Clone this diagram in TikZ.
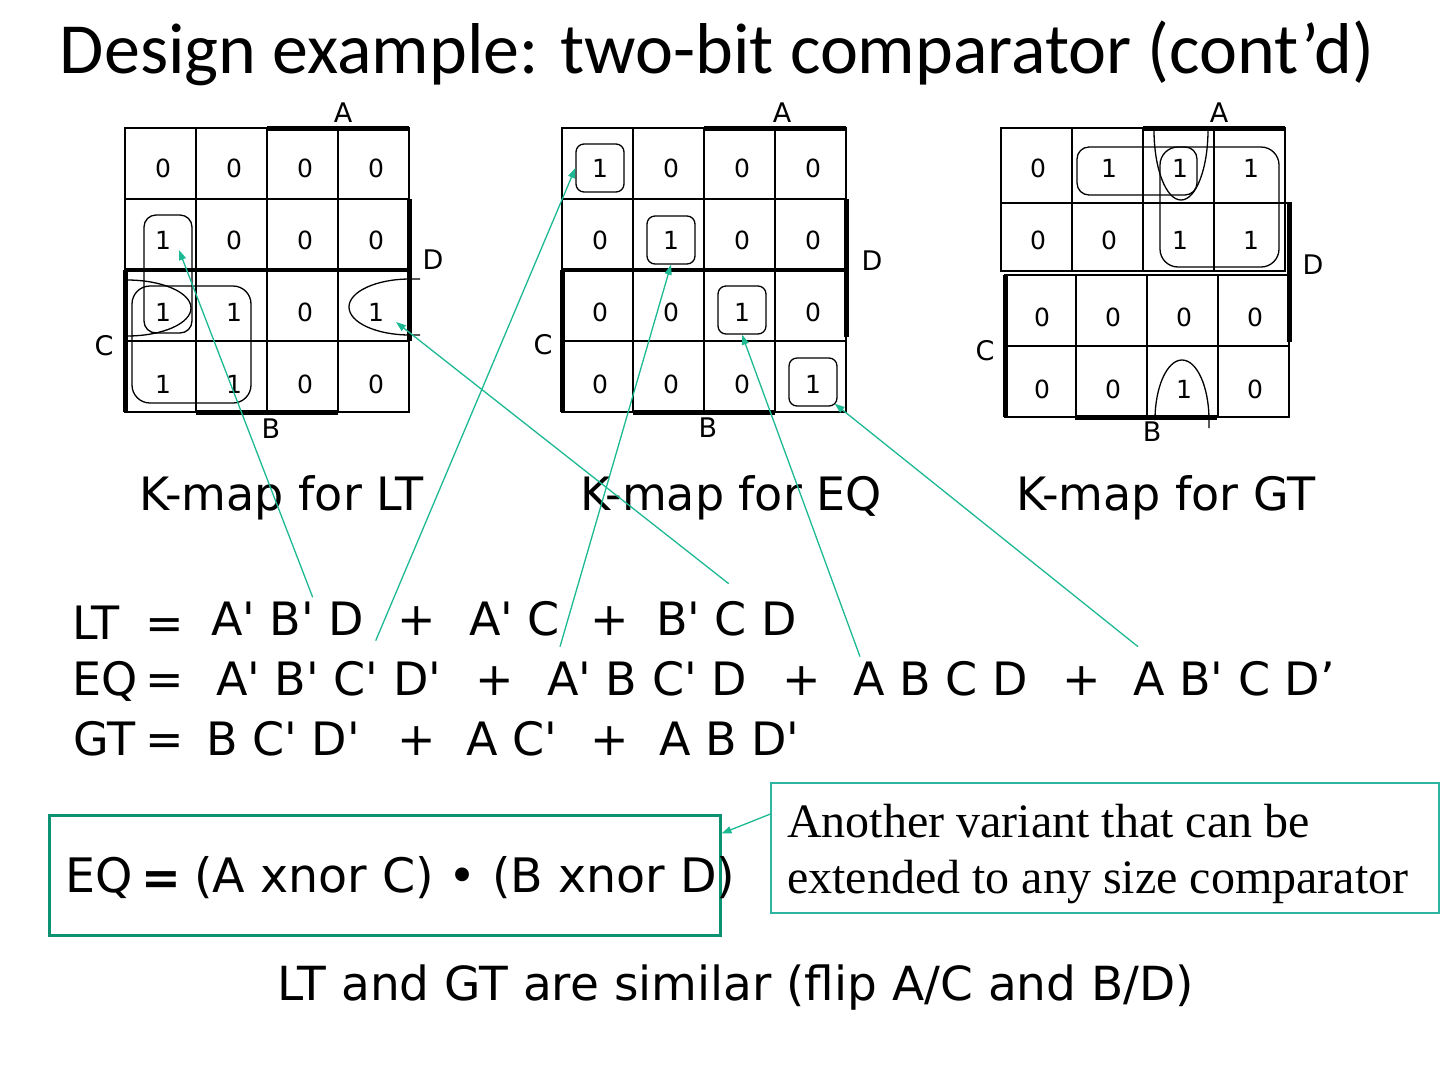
\documentclass[tikz,border=0pt]{standalone}
\usepackage{fontspec}
\setmainfont{DejaVu Sans}
\newfontfamily\titlefont{Carlito}
\newfontfamily\notefont{Liberation Serif}
\usetikzlibrary{arrows.meta, positioning, calc}
\definecolor{kteal}{HTML}{1DB992}
\definecolor{kgreen}{HTML}{0A9272}
\definecolor{knote}{HTML}{2EB5A2}
\newcommand{\q}{\textquotesingle}
\tikzset{
  grid/.style={line width=1.6pt},
  bar/.style={line width=5pt},
  ring/.style={line width=1.3pt},
  bit/.style={font=\fontsize{25}{25}\selectfont, inner sep=1pt},
  var/.style={font=\fontsize{27}{27}\selectfont, inner sep=0pt},
  term/.style={font=\fontsize{46}{46}\selectfont, anchor=base west, inner sep=0pt},
  caption/.style={font=\fontsize{46}{46}\selectfont, anchor=base, inner sep=0pt},
  eqring/.style={draw, rounded corners=8pt, minimum size=48pt, line width=1.3pt, inner sep=0pt},
  link/.style={-{Triangle[length=10pt,width=7pt]}, draw=kteal, line width=1.3pt},
  notebox/.style={draw=knote, line width=1.2pt, minimum width=668pt, minimum height=130pt, inner sep=0pt},
  notetext/.style={font=\notefont\fontsize{48}{56}\selectfont, align=left, anchor=north west, inner sep=0pt}
}
\begin{document}
\begin{tikzpicture}[x=1pt, y=-1pt]
  \useasboundingbox (0,0) rectangle (1440,1080);
  \node[font=\titlefont\fontsize{72}{72}\selectfont, anchor=base] (title) at (717,73) {Design example: two-bit comparator (cont’d)};

  % K-map for LT
  \draw[grid] (125,128) rectangle (409,412);
  \foreach \x in {196,267,338} \draw[grid] (\x,128) -- (\x,412);
  \draw[grid] (125,199) -- (409,199);
  \draw[line width=1.2pt] (125,341) -- (409,341);
  \draw[line width=3.5pt] (125,270) -- (409,270);
  \draw[bar] (267,128) -- (409,128);
  \draw[bar] (409,199) -- (409,341);
  \draw[bar] (125,270) -- (125,412);
  \draw[bar] (196,412) -- (338,412);
  \foreach \row [count=\r from 0] in {{0,0,0,0},{1,0,0,0},{1,1,0,1},{1,1,0,0}}
    \foreach \v [count=\c from 0] in \row
      \node[bit] (lt-\r-\c) at (163+71*\c, 168+72*\r) {\v};
  \node[var] (lt-a) at (343,113) {A};
  \node[var] (lt-d) at (433,260) {D};
  \node[var] (lt-c) at (104,346) {C};
  \node[var] (lt-b) at (271,429) {B};
  \draw[ring, rounded corners=12pt] (144,215) rectangle (192,333);
  \draw[ring, rounded corners=18pt] (132,286) rectangle (251,403);
  \draw[ring] (127,280) arc[start angle=-90, end angle=90, x radius=64, y radius=28];
  \draw[ring] (420,279) -- (410,279) arc[start angle=-90, end angle=-270, x radius=61, y radius=28] -- (420,335);

  % K-map for EQ
  \draw[grid] (562,128) rectangle (846,412);
  \foreach \x in {633,704,775} \draw[grid] (\x,128) -- (\x,412);
  \draw[grid] (562,199) -- (846,199);
  \draw[line width=1.2pt] (562,341) -- (846,341);
  \draw[line width=3.5pt] (562,270) -- (846,270);
  \draw[bar] (704,128) -- (846,128);
  \draw[bar] (846,199) -- (846,337);
  \draw[bar] (562,270) -- (562,412);
  \draw[bar] (633,412) -- (775,412);
  \foreach \row [count=\r from 0] in {{1,0,0,0},{0,1,0,0},{0,0,1,0},{0,0,0,1}}
    \foreach \v [count=\c from 0] in \row
      \node[bit] (eq-\r-\c) at (600+71*\c, 168+72*\r) {\v};
  \node[var] (eq-a) at (782,113) {A};
  \node[var] (eq-d) at (872,261) {D};
  \node[var] (eq-c) at (543,345) {C};
  \node[var] (eq-b) at (708,428) {B};
  \node[eqring] (eq-r0) at (600,168) {};
  \node[eqring] (eq-r1) at (671,240) {};
  \node[eqring] (eq-r2) at (742,310) {};
  \node[eqring] (eq-r3) at (813,382) {};

  % K-map for GT
  \draw[grid] (1001,128) rectangle (1285,271);
  \foreach \x in {1072,1143,1214} \draw[grid] (\x,128) -- (\x,271);
  \draw[grid] (1001,203) -- (1289,203);
  \draw[grid] (1005,275) rectangle (1289,417);
  \foreach \x in {1076,1147,1218} \draw[grid] (\x,275) -- (\x,417);
  \draw[grid] (1005,346) -- (1289,346);
  \draw[bar] (1143,128) -- (1285,128);
  \draw[bar] (1289,202) -- (1289,342);
  \draw[bar] (1005,275) -- (1005,417);
  \draw[bar] (1075,417) -- (1217,417);
  \foreach \row [count=\r from 0] in {{0,1,1,1},{0,0,1,1}}
    \foreach \v [count=\c from 0] in \row
      \node[bit] (gt-\r-\c) at (1038+71*\c, 168+72*\r) {\v};
  \foreach \row [count=\r from 2] in {{0,0,0,0},{0,0,1,0}}
    \foreach \v [count=\c from 0] in \row
      \node[bit] (gt-\r-\c) at (1042+71*\c, 173+72*\r) {\v};
  \node[var] (gt-a) at (1219,113) {A};
  \node[var] (gt-d) at (1313,265) {D};
  \node[var] (gt-c) at (985,351) {C};
  \node[var] (gt-b) at (1152,432) {B};
  \draw[ring, rounded corners=12pt] (1077,147) rectangle (1197,195);
  \draw[ring, rounded corners=18pt] (1160,147) rectangle (1279,267);
  \draw[ring] (1154,130) arc[start angle=180, end angle=0, x radius=27, y radius=70];
  \draw[ring] (1155,420) arc[start angle=180, end angle=360, x radius=27, y radius=60] -- (1209,428);

  \node[caption] (lt-cap) at (282,510) {K-map for LT};
  \node[caption] (eq-cap) at (731,510) {K-map for EQ};
  \node[caption] (gt-cap) at (1166,510) {K-map for GT};

  % equations
  \node[term] (lt-name) at (72,639) {LT};
  \node[term] (lt-eq) at (145,639) {=};
  \node[term] (lt-t1) at (211,635) {A\q{} B\q{} D};
  \node[term] (lt-p1) at (397,635) {+};
  \node[term] (lt-t2) at (469,635) {A\q{} C};
  \node[term] (lt-p2) at (590,635) {+};
  \node[term] (lt-t3) at (656,635) {B\q{} C D};

  \node[term] (eq-name) at (72,695) {EQ};
  \node[term] (eq-eq) at (145,695) {=};
  \node[term] (eq-t1) at (216,695) {A\q{} B\q{} C\q{} D\q{}};
  \node[term] (eq-p1) at (475,695) {+};
  \node[term] (eq-t2) at (547,695) {A\q{} B C\q{} D};
  \node[term] (eq-p2) at (782,695) {+};
  \node[term] (eq-t3) at (853,695) {A B C D};
  \node[term] (eq-p3) at (1062,695) {+};
  \node[term] (eq-t4) at (1133,695) {A B\q{} C D’};

  \node[term] (gt-name) at (73,755) {GT};
  \node[term] (gt-eq) at (145,755) {=};
  \node[term] (gt-t1) at (206,755) {B C\q{} D\q{}};
  \node[term] (gt-p1) at (397,755) {+};
  \node[term] (gt-t2) at (466,755) {A C\q{}};
  \node[term] (gt-p2) at (590,755) {+};
  \node[term] (gt-t3) at (659,755) {A B D\q{}};

  \draw[link] ($(lt-t1.north)+(25,-4)$) -- ($(lt-1-0)+(16,10)$);
  \draw[link] ($(lt-t3.north)+(2,-17)$) -- ($(lt-2-3)+(20,10)$);
  \draw[link] ($(eq-t1.north)+(47,-20)$) -- (eq-r0.west);
  \draw[link] ($(eq-t2.north west)+(13,-14)$) -- (eq-r1.south);
  \draw[link] ($(eq-t3.north west)+(7,-4)$) -- (eq-r2.south);
  \draw[link] ($(eq-t4.north west)+(5,-14)$) -- ($(eq-r3.south east)+(-3,-3)$);

  % variant
  \node[draw=kgreen, line width=3pt, minimum width=671pt, minimum height=120pt, inner sep=0pt] (eqbox) at (384.5,875) {};
  \node[term, font=\fontsize{47.5}{47.5}\selectfont] (box-name) at (65.5,892) {EQ};
  \node[term, font=\fontsize{47.5}{47.5}\selectfont] (box-eq) at (141,894) {\textbf{=}};
  \node[term, font=\fontsize{47.5}{47.5}\selectfont] (box-expr) at (194,892) {(A xnor C) • (B xnor D)};
  \node[notebox] (note) at (1105,848) {};
  \node[notetext] (note-txt) at (787,804) {Another variant that can be\\extended to any size comparator};
  \draw[link] ($(note.west)+(0,-34)$) -- ($(eqbox.north east)+(0,20)$);

  \node[caption, font=\fontsize{47}{47}\selectfont] (foot) at (736,1000) {LT and GT are similar (flip A/C and B/D)};
\end{tikzpicture}
\end{document}
